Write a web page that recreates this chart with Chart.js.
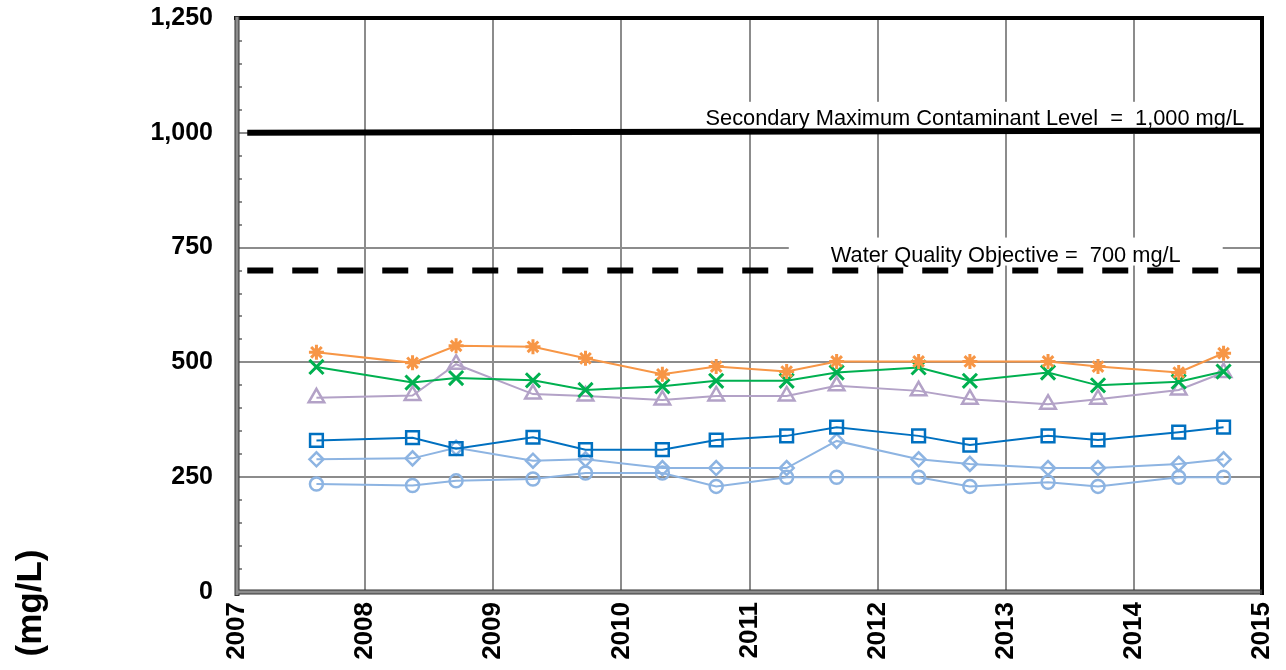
<!DOCTYPE html>
<html>
<head>
<meta charset="utf-8">
<script src="https://cdn.jsdelivr.net/npm/chart.js@4.4.1/dist/chart.umd.min.js"></script>
<style>
  html, body { margin: 0; padding: 0; background: #fff; }
  #wrap { width: 1286px; height: 670px; }
</style>
</head>
<body>
<div id="wrap"><canvas id="chart" width="1286" height="670"></canvas></div>
<script>
// sampling dates as decimal years
const sampleYears = [2007.62, 2008.37, 2008.71, 2009.31, 2009.72, 2010.32, 2010.74, 2011.29, 2011.68, 2012.32, 2012.72, 2013.33, 2013.72, 2014.35, 2014.70];

const orangeStar   = [522, 499, 536, 534, 509, 474, 491, 480, 502, 502, 502, 502, 491, 478, 520];
const greenCross   = [490, 456, 466, 461, 440, 448, 460, 460, 478, 489, 460, 478, 450, 458, 480];
const purpleTri    = [423, 428, 496, 431, 427, 418, 427, 427, 449, 438, 420, 409, 420, 440, 478];
const blueSquare   = [330, 336, 312, 337, 310, 310, 331, 340, 359, 340, 320, 340, 331, 348, 359];
const lightDiamond = [289, 291, 314, 286, 289, 270, 270, 270, 329, 289, 279, 270, 270, 279, 289];
const lightCircle  = [235, 232, 242, 246, 259, 259, 230, 250, 250, 250, 230, 239, 230, 250, 250];

// limit lines
const limitYears = [2007.08, 2015];
const smclValues = [1000, 1005];
const wqoValues = [700, 700];
const smclText = 'Secondary Maximum Contaminant Level  =  1,000 mg/L';
const wqoText = 'Water Quality Objective =  700 mg/L';

const yTicks = [0, 250, 500, 750, 1000, 1250];
const xTicks = [2007, 2008, 2009, 2010, 2011, 2012, 2013, 2014, 2015];
const yTitle = '(mg/L)';

const FONT = '"Liberation Sans", Arial, sans-serif';

const toPts = (vals, xs = sampleYears) => vals.map((v, i) => ({ x: xs[i], y: v }));

const series = (data, color, style, radius, markerWidth = 2.5) => ({
    data: toPts(data),
    borderColor: color,
    borderWidth: 2,
    pointStyle: style,
    pointRadius: radius,
    pointBorderColor: color,
    pointBackgroundColor: 'rgba(0,0,0,0)',
    pointBorderWidth: markerWidth,
    tension: 0
});

// stop the scales from pushing the plot area in
const noScalePadding = (s) => {
    s.paddingTop = 0;
    s.paddingBottom = 0;
    s.paddingLeft = 0;
    s.paddingRight = 0;
};

const limitLabels = {
    id: 'limitLabels',
    beforeDatasetsDraw(chart) {
        const { ctx, chartArea, scales: { x, y } } = chart;
        ctx.save();
        ctx.font = '21.8px ' + FONT;
        ctx.textBaseline = 'alphabetic';

        // SMCL label, right aligned
        const sw = ctx.measureText(smclText).width;
        const sRight = x.getPixelForValue(2014.86);
        const sBase = y.getPixelForValue(1000) - 8;
        const sBoxL = sRight - sw - 42;
        ctx.fillStyle = '#fff';
        ctx.fillRect(sBoxL, sBase - 23, chartArea.right - 3 - sBoxL, 28);
        ctx.fillStyle = '#000';
        ctx.textAlign = 'right';
        ctx.fillText(smclText, sRight, sBase);

        // WQO label, centered
        const ww = ctx.measureText(wqoText).width;
        const wCx = x.getPixelForValue(2013.0);
        const wBase = y.getPixelForValue(700) - 9;
        ctx.fillStyle = '#fff';
        ctx.fillRect(wCx - ww / 2 - 42, wBase - 24, ww + 84, 28);
        ctx.fillStyle = '#000';
        ctx.textAlign = 'center';
        ctx.fillText(wqoText, wCx, wBase);
        ctx.restore();
    }
};

const frame = {
    id: 'frame',
    afterDraw(chart) {
        const { ctx, chartArea: a, scales: { y } } = chart;
        ctx.save();
        // minor ticks on the value axis
        ctx.strokeStyle = '#8c8c8c';
        ctx.lineWidth = 2;
        for (let v = 50; v < 1250; v += 50) {
            if (v % 250 === 0) continue;
            const py = Math.round(y.getPixelForValue(v));
            ctx.beginPath();
            ctx.moveTo(a.left, py);
            ctx.lineTo(a.left + 5, py);
            ctx.stroke();
        }
        // top and right: black
        ctx.strokeStyle = '#000';
        ctx.lineWidth = 4;
        ctx.beginPath();
        ctx.moveTo(a.left - 3, a.top);
        ctx.lineTo(a.right + 2, a.top);
        ctx.moveTo(a.right, a.top - 2);
        ctx.lineTo(a.right, a.bottom + 3);
        ctx.stroke();
        // left and bottom: gray with dark edges
        ctx.lineWidth = 5;
        ctx.strokeStyle = '#333';
        ctx.beginPath();
        ctx.moveTo(a.left, a.top - 2);
        ctx.lineTo(a.left, a.bottom + 4);
        ctx.moveTo(a.left - 2, a.bottom);
        ctx.lineTo(a.right, a.bottom);
        ctx.stroke();
        ctx.lineWidth = 3;
        ctx.strokeStyle = '#8c8c8c';
        ctx.beginPath();
        ctx.moveTo(a.left, a.top - 1);
        ctx.lineTo(a.left, a.bottom + 3);
        ctx.moveTo(a.left - 1, a.bottom);
        ctx.lineTo(a.right - 2, a.bottom);
        ctx.stroke();

        // value axis title
        ctx.fillStyle = '#000';
        ctx.font = 'bold 35px ' + FONT;
        ctx.textAlign = 'center';
        ctx.textBaseline = 'middle';
        ctx.translate(31, 603);
        ctx.rotate(-Math.PI / 2);
        ctx.fillText(yTitle, 0, 0);
        ctx.restore();
    }
};

const ctx = document.getElementById('chart').getContext('2d');

new Chart(ctx, {
    type: 'line',
    data: {
        datasets: [
            series(orangeStar, '#F79646', 'star', 7.5, 3),
            series(greenCross, '#00B050', 'crossRot', 10, 3),
            series(purpleTri, '#B3A2C7', 'triangle', 9),
            series(blueSquare, '#0070C0', 'rect', 9),
            series(lightDiamond, '#8DB4E2', 'rectRot', 7),
            series(lightCircle, '#8DB4E2', 'circle', 6.5),
            {
                data: toPts(smclValues, limitYears),
                borderColor: '#000',
                borderWidth: 6,
                pointRadius: 0,
                borderCapStyle: 'butt'
            },
            {
                data: toPts(wqoValues, limitYears),
                borderColor: '#000',
                borderWidth: 6,
                borderDash: [26, 19],
                pointRadius: 0,
                borderCapStyle: 'butt'
            }
        ]
    },
    options: {
        responsive: false,
        animation: false,
        events: [],
        layout: { padding: { top: 18, right: 24, left: 0, bottom: 0 } },
        plugins: {
            legend: { display: false },
            tooltip: { enabled: false },
            title: { display: false }
        },
        scales: {
            x: {
                type: 'linear',
                min: 2007,
                max: 2015,
                afterFit: (s) => { s.height = 78; noScalePadding(s); },
                afterBuildTicks: (s) => { s.ticks = xTicks.map(v => ({ value: v })); },
                grid: { color: '#8c8c8c', lineWidth: 2, drawTicks: false },
                border: { display: false },
                ticks: {
                    minRotation: 90,
                    maxRotation: 90,
                    padding: 10,
                    color: '#000',
                    font: { family: FONT, size: 26, weight: 'bold' },
                    callback: (v) => String(v)
                }
            },
            y: {
                min: 0,
                max: 1250,
                afterFit: (s) => { s.width = 237; noScalePadding(s); },
                afterBuildTicks: (s) => { s.ticks = yTicks.map(v => ({ value: v })); },
                grid: { color: '#8c8c8c', lineWidth: 2, drawTicks: false },
                border: { display: false },
                ticks: {
                    padding: 24,
                    color: '#000',
                    font: { family: FONT, size: 25, weight: 'bold' },
                    callback: (v) => v.toLocaleString('en-US')
                }
            }
        }
    },
    plugins: [limitLabels, frame]
});
</script>
</body>
</html>
